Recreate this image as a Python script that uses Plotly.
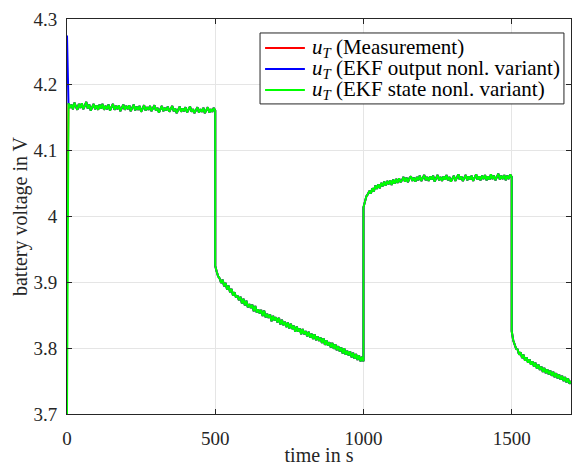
import plotly.graph_objects as go

# ---- data ----
t_seg1 = list(range(0, 505, 5))
t_seg2 = list(range(500, 1005, 5))
t_seg3 = list(range(1000, 1505, 5))
t_seg4 = list(range(1500, 1705, 5))

u_seg1 = [3.700, 4.172, 4.165, 4.170, 4.163, 4.173, 4.167, 4.162, 4.171, 4.165,
          4.172, 4.163, 4.168, 4.174, 4.164, 4.170, 4.161, 4.167, 4.171, 4.163,
          4.169, 4.162, 4.170, 4.164, 4.171, 4.162, 4.168, 4.163, 4.170, 4.161,
          4.166, 4.171, 4.162, 4.168, 4.163, 4.169, 4.160, 4.166, 4.170, 4.162,
          4.168, 4.163, 4.169, 4.160, 4.165, 4.170, 4.161, 4.167, 4.162, 4.168,
          4.159, 4.165, 4.169, 4.161, 4.166, 4.162, 4.168, 4.160, 4.164, 4.169,
          4.161, 4.165, 4.158, 4.164, 4.168, 4.160, 4.165, 4.161, 4.167, 4.159,
          4.163, 4.168, 4.160, 4.164, 4.157, 4.163, 4.167, 4.159, 4.164, 4.160,
          4.166, 4.158, 4.163, 4.167, 4.159, 4.163, 4.157, 4.162, 4.166, 4.158,
          4.163, 4.159, 4.165, 4.157, 4.162, 4.166, 4.158, 4.163, 4.159, 4.165,
          4.161]
u_seg2 = [3.925, 3.916, 3.909, 3.906, 3.899, 3.904, 3.894, 3.899, 3.889, 3.895,
          3.885, 3.890, 3.880, 3.885, 3.877, 3.880, 3.873, 3.878, 3.868, 3.875,
          3.865, 3.872, 3.862, 3.867, 3.861, 3.866, 3.856, 3.864, 3.854, 3.859,
          3.853, 3.858, 3.849, 3.857, 3.847, 3.852, 3.846, 3.851, 3.841, 3.849,
          3.842, 3.847, 3.839, 3.846, 3.836, 3.843, 3.835, 3.840, 3.832, 3.839,
          3.830, 3.837, 3.829, 3.834, 3.825, 3.833, 3.825, 3.830, 3.821, 3.829,
          3.821, 3.826, 3.818, 3.825, 3.816, 3.822, 3.814, 3.821, 3.812, 3.818,
          3.811, 3.816, 3.808, 3.815, 3.805, 3.812, 3.804, 3.809, 3.801, 3.808,
          3.799, 3.806, 3.797, 3.803, 3.795, 3.801, 3.792, 3.800, 3.790, 3.796,
          3.789, 3.795, 3.786, 3.793, 3.784, 3.791, 3.782, 3.789, 3.780, 3.787,
          3.780]
u_seg3 = [4.014, 4.024, 4.031, 4.034, 4.039, 4.035, 4.043, 4.038, 4.047, 4.042,
          4.049, 4.043, 4.051, 4.046, 4.053, 4.047, 4.054, 4.049, 4.055, 4.048,
          4.056, 4.050, 4.057, 4.051, 4.058, 4.052, 4.055, 4.060, 4.053, 4.059,
          4.052, 4.058, 4.061, 4.054, 4.059, 4.053, 4.060, 4.055, 4.062, 4.054,
          4.058, 4.063, 4.055, 4.060, 4.054, 4.061, 4.056, 4.062, 4.053, 4.058,
          4.063, 4.055, 4.060, 4.054, 4.061, 4.056, 4.063, 4.055, 4.060, 4.053,
          4.058, 4.062, 4.054, 4.060, 4.064, 4.056, 4.061, 4.054, 4.060, 4.063,
          4.055, 4.061, 4.056, 4.062, 4.054, 4.060, 4.064, 4.056, 4.061, 4.055,
          4.062, 4.057, 4.063, 4.055, 4.061, 4.056, 4.064, 4.057, 4.062, 4.055,
          4.061, 4.065, 4.056, 4.062, 4.057, 4.063, 4.055, 4.062, 4.057, 4.064,
          4.060]
u_seg4 = [3.826, 3.812, 3.806, 3.799, 3.798, 3.790, 3.794, 3.785, 3.790, 3.781,
          3.786, 3.778, 3.783, 3.775, 3.780, 3.772, 3.778, 3.769, 3.775, 3.767,
          3.772, 3.764, 3.770, 3.762, 3.768, 3.760, 3.766, 3.758, 3.764, 3.756,
          3.762, 3.754, 3.760, 3.752, 3.758, 3.750, 3.756, 3.748, 3.754, 3.746,
          3.750]

meas_start = 3.962      # first sample of measurement
ekf_out_start = 4.275   # first sample of EKF output variant

time = t_seg1 + t_seg2 + t_seg3 + t_seg4
u_state = u_seg1 + u_seg2 + u_seg3 + u_seg4
u_meas = [meas_start] + u_state[1:]
u_out = [ekf_out_start] + u_state[1:]

names = ["<i>u</i><sub><i>T</i></sub> (Measurement)",
         "<i>u</i><sub><i>T</i></sub> (EKF output nonl. variant)",
         "<i>u</i><sub><i>T</i></sub> (EKF state nonl. variant)"]
colors = ["#ff0000", "#0000ff", "#00ff00"]

x_ticks = [0, 500, 1000, 1500]
y_ticks = [3.7, 3.8, 3.9, 4.0, 4.1, 4.2, 4.3]
y_tick_text = ["3.7", "3.8", "3.9", "4", "4.1", "4.2", "4.3"]

fig = go.Figure()
for y, n, c in zip([u_meas, u_out, u_state], names, colors):
    fig.add_trace(go.Scatter(x=time, y=y, mode="lines", name=n,
                             line=dict(color=c, width=2), showlegend=False))

font = "Liberation Serif"
axcol = "#262626"

# legend box drawn in paper coordinates (MATLAB-style legend)
fig.add_shape(type="rect", xref="paper", yref="paper",
              x0=0.383, x1=0.986, y0=0.785, y1=0.9646,
              line=dict(color=axcol, width=1), fillcolor="white", layer="above")
row_y = [0.9266, 0.8734, 0.8203]
for n, c, ry in zip(names, colors, row_y):
    fig.add_shape(type="line", xref="paper", yref="paper",
                  x0=0.393, x1=0.472, y0=ry, y1=ry,
                  line=dict(color=c, width=2), layer="above")
    fig.add_annotation(xref="paper", yref="paper", x=0.484, y=ry,
                       xanchor="left", yanchor="middle", showarrow=False,
                       borderpad=0,
                       text=n, font=dict(family=font, size=21, color="#000000"))

fig.update_layout(
    width=572, height=466,
    margin=dict(l=67, r=1, t=19, b=52),
    paper_bgcolor="white", plot_bgcolor="white",
    font=dict(family=font, size=19, color=axcol),
    showlegend=False,
)
fig.update_xaxes(range=[0, 1700], tickvals=x_ticks, automargin=False,
                 showline=True, linecolor=axcol, linewidth=1, mirror="ticks",
                 ticks="inside", ticklen=5, tickcolor=axcol,
                 showgrid=True, gridcolor="#e5e5e5", gridwidth=1,
                 zeroline=False, ticklabelstandoff=7,
                 title=dict(text="time in s", standoff=2,
                            font=dict(family=font, size=20)),
                 tickfont=dict(family=font, size=19, color=axcol))
fig.update_yaxes(range=[3.7, 4.3], tickvals=y_ticks, ticktext=y_tick_text,
                 automargin=False,
                 showline=True, linecolor=axcol, linewidth=1, mirror="ticks",
                 ticks="inside", ticklen=5, tickcolor=axcol,
                 showgrid=True, gridcolor="#e5e5e5", gridwidth=1,
                 zeroline=False, ticklabelstandoff=5,
                 title=dict(text="battery voltage in V", standoff=0,
                            font=dict(family=font, size=20)),
                 tickfont=dict(family=font, size=19, color=axcol))

fig.write_html("out.html", config={"displayModeBar": False},
               post_script="document.body.style.margin='0';")
